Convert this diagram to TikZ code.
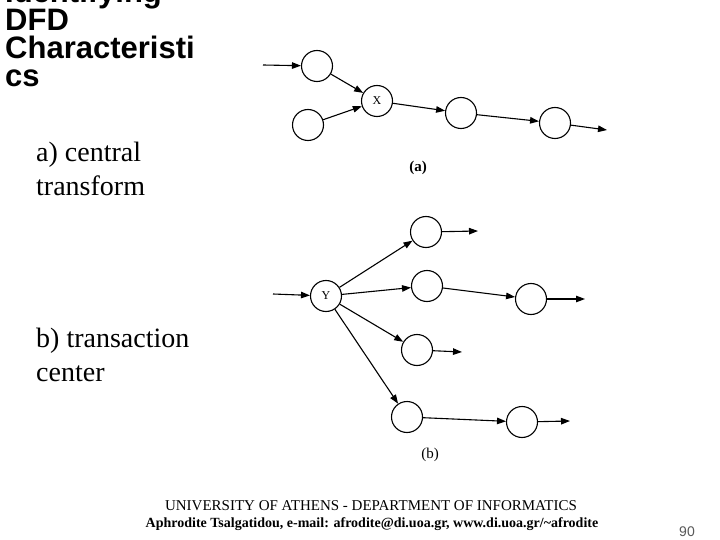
\documentclass[tikz,border=0pt]{standalone}
\usepackage{fontspec}
\setmainfont{Liberation Serif}
\setsansfont{Liberation Sans}
\newfontfamily\headfont{Liberation Sans Bold}
\usetikzlibrary{arrows.meta, positioning}

\begin{document}
\begin{tikzpicture}[
  x=1pt, y=-1pt,
  proc/.style={draw, line width=1.1pt, circle, minimum size=31pt, inner sep=0pt,
               font=\rmfamily\fontsize{12}{12}\selectfont},
  arr/.style={-{Triangle[length=9pt, width=6.5pt]}, line width=1.1pt},
  ttl/.style={anchor=base west, align=left, inner sep=0pt,
              font=\fontsize{31}{28}\selectfont\headfont},
  side/.style={anchor=base west, align=left, inner sep=0pt,
               font=\rmfamily\fontsize{28}{34}\selectfont},
  figlbl/.style={inner sep=0pt, font=\rmfamily\fontsize{15}{15}\selectfont},
  foot/.style={anchor=base, inner sep=0pt, font=\rmfamily\fontsize{15}{15}\selectfont}
]
\useasboundingbox (0,0) rectangle (720,540);
\fill[white] (0,0) rectangle (720,540);

% Title and side texts
\node[ttl] (title) at (5,87) {Identifying\\DFD\\Characteristi\\cs};
\node[side] (txta) at (36,196) {a) central\\transform};
\node[side] (txtb) at (36,381) {b) transaction\\center};

% (a) central transform
\node[proc] (a1) at (317,66) {};
\node[proc] (x) at (377,101) {X};
\node[proc] (a2) at (308,125) {};
\node[proc] (a3) at (461,113) {};
\node[proc] (a4) at (555,123) {};
\coordinate (ain) at (263,65);
\coordinate (aout) at (607,130);
\draw[arr] (ain) -- (a1);
\draw[arr] (a1) -- (x);
\draw[arr] (a2) -- (x);
\draw[arr] (x) -- (a3);
\draw[arr] (a3) -- (a4);
\draw[arr] (a4) -- (aout);
\node[figlbl, font=\rmfamily\bfseries\fontsize{15}{15}\selectfont] (capa) at (418,168) {(a)};

% (b) transaction center
\node[proc] (y) at (326,296) {Y};
\node[proc] (b1) at (426,232) {};
\node[proc] (b2) at (427,286) {};
\node[proc] (b3) at (531,299) {};
\node[proc] (b4) at (417,350) {};
\node[proc] (b5) at (407,417) {};
\node[proc] (b6) at (522,422) {};
\coordinate (bin) at (273,294);
\coordinate (bout1) at (478,231);
\coordinate (bout3) at (585,299);
\coordinate (bout4) at (462,352);
\coordinate (bout6) at (570,421);
\draw[arr] (bin) -- (y);
\draw[arr] (y) -- (b1);
\draw[arr] (y) -- (b2);
\draw[arr] (y) -- (b4);
\draw[arr] (y) -- (b5);
\draw[arr] (b1) -- (bout1);
\draw[arr] (b2) -- (b3);
\draw[arr] (b3) -- (bout3);
\draw[arr] (b4) -- (bout4);
\draw[arr] (b5) -- (b6);
\draw[arr] (b6) -- (bout6);
\node[figlbl] (capb) at (430,455) {(b)};

% Footer
\node[foot] (uni) at (371,510) {UNIVERSITY OF ATHENS - DEPARTMENT OF INFORMATICS};
\node[foot, font=\rmfamily\bfseries\fontsize{14}{14}\selectfont] (auth) at (372,527)
  {Aphrodite Tsalgatidou, e-mail: afrodite@di.uoa.gr, www.di.uoa.gr/\textasciitilde afrodite};
\node[foot, font=\sffamily\fontsize{14}{14}\selectfont, text=black!65] (page) at (687,536) {90};
\end{tikzpicture}
\end{document}
